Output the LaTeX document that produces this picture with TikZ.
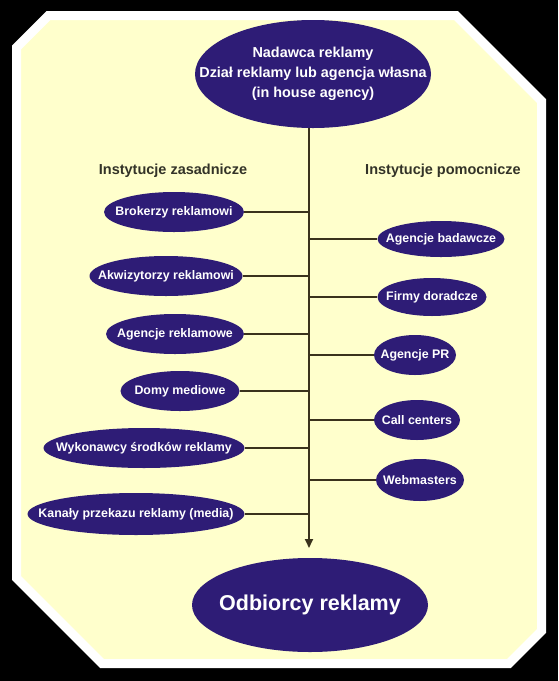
\documentclass[tikz,border=0pt]{standalone}
\usepackage{fontspec}
\setmainfont{Liberation Sans}
\usetikzlibrary{shapes.geometric,arrows.meta}
\definecolor{bgyellow}{RGB}{255,255,204}
\definecolor{navy}{RGB}{46,28,118}
\definecolor{linecol}{RGB}{58,50,28}
\definecolor{labcol}{RGB}{51,51,40}
\newcommand{\zw}[1]{\makebox[0pt]{#1}}
\begin{document}
\begin{tikzpicture}[x=1pt,y=-1pt,
  oval/.style={ellipse, fill=navy, text=white, inner sep=0pt,
    font=\bfseries\fontsize{12.4}{14}\selectfont},
  small/.style={oval, minimum height=40pt},
  side/.style={text=labcol, font=\bfseries\fontsize{14.5}{16}\selectfont, inner sep=0pt},
  conn/.style={draw=linecol, line width=1.8pt},
  arr/.style={conn, -{Triangle[width=8pt,length=9pt]}}]
\fill[black] (0,0) rectangle (558,681);
\useasboundingbox (0,0) rectangle (558,681);
\draw[fill=bgyellow, draw=white, line width=9pt, line join=miter]
  (48.5,15.5) -- (456.1,15.5) -- (541.5,100.9) -- (541.5,631.1) -- (509.1,663.5)
  -- (101.9,663.5) -- (16.5,578.1) -- (16.5,47.5) -- cycle;

\node[oval, minimum width=236pt, minimum height=108pt] (top) at (313,74)
  {\zw{\raisebox{-3pt}[0pt][0pt]{\fontsize{14.4}{20}\selectfont\begin{tabular}{@{}c@{}}Nadawca reklamy\\Dział reklamy lub agencja własna\\(in house agency)\end{tabular}}}};
\node[oval, minimum width=236pt, minimum height=94pt] (bot) at (310,605)
  {\zw{\fontsize{21.5}{24}\selectfont Odbiorcy reklamy}};

\node[side] (lz) at (173,171) {Instytucje zasadnicze};
\node[side] (lp) at (443,171) {Instytucje pomocnicze};

\coordinate (sx) at (309,0);
\draw[arr] (top.south -| sx) -- (309,548) coordinate (tip);

% left column
\node[small, minimum width=140pt] (l1) at (174,212) {\zw{Brokerzy reklamowi}};
\node[small, minimum width=153pt] (l2) at (166,276) {\zw{Akwizytorzy reklamowi}};
\node[small, minimum width=138pt] (l3) at (175,334) {\zw{Agencje reklamowe}};
\node[small, minimum width=119pt] (l4) at (180,391) {\zw{Domy mediowe}};
\node[small, minimum width=201pt] (l5) at (144,448) {\zw{Wykonawcy środków reklamy}};
\node[small, minimum width=217pt, minimum height=42pt] (l6) at (136,514) {\zw{Kanały przekazu reklamy (media)}};
\foreach \n in {l1,l2,l3,l4,l5,l6}
  \draw[conn] (\n.east) -- (\n.east -| sx);

% right column
\node[small, minimum width=127pt, minimum height=36pt] (r1) at (441,239) {\zw{Agencje badawcze}};
\node[small, minimum width=109pt, minimum height=38pt] (r2) at (432,297) {\zw{Firmy doradcze}};
\node[small, minimum width=82pt] (r3) at (415,355) {\zw{Agencje PR}};
\node[small, minimum width=86pt] (r4) at (417,420) {\zw{Call centers}};
\node[small, minimum width=88pt, minimum height=42pt] (r5) at (420,480) {\zw{Webmasters}};
\foreach \n in {r1,r2,r3,r4,r5}
  \draw[conn] (\n.west -| sx) -- (\n.west);
\end{tikzpicture}
\end{document}
